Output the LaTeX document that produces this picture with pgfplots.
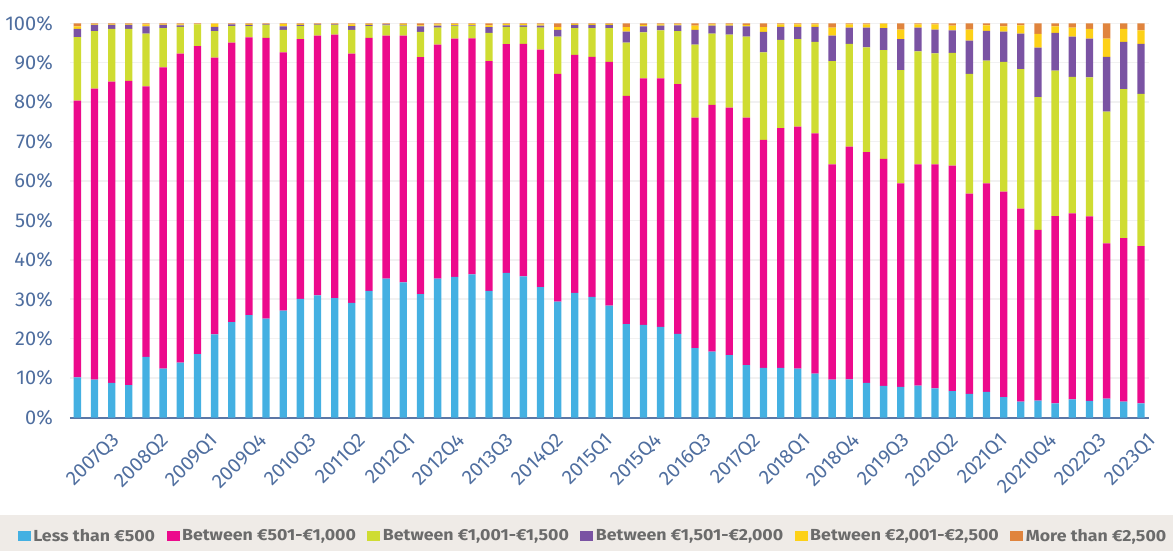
\documentclass[border=0pt]{standalone}
\usepackage{fontspec}
\setmainfont{Fira Sans}
\newfontfamily\legfont{Fira Sans}[FakeStretch=1.11]
\usepackage{pgfplots}
\usepackage{pgfplotstable}
\pgfplotsset{compat=1.18}
\definecolor{cA}{HTML}{44B0E2}
\definecolor{cB}{HTML}{EC0A8C}
\definecolor{cC}{HTML}{CFDC32}
\definecolor{cD}{HTML}{7A53A3}
\definecolor{cE}{HTML}{FDD117}
\definecolor{cF}{HTML}{E0843D}
\definecolor{tickcol}{HTML}{4F6E9F}
\definecolor{axcol}{HTML}{5B77A6}
\definecolor{bandcol}{HTML}{EFEBE7}
\definecolor{legtext}{HTML}{6B6B6B}
\definecolor{gridcol}{HTML}{F1F1F1}

\pgfplotstableread{
x c1 c2 c3 c4 c5 c6
0 10.2 70.2 16.1 2.1 0.6 0.8
1 9.6 73.8 14.6 1.6 0.1 0.3
2 8.8 76.4 13.4 1.0 0.1 0.3
3 8.2 77.2 13.2 1.0 0.1 0.3
4 15.4 68.6 13.4 1.8 0.5 0.3
5 12.4 76.4 10.0 0.8 0.1 0.3
6 13.9 78.4 6.8 0.4 0.2 0.3
7 16.1 78.1 5.5 0.0 0.1 0.2
8 21.1 70.2 6.7 1.1 0.8 0.1
9 24.2 70.9 4.2 0.4 0.1 0.2
10 26.0 70.4 2.9 0.3 0.2 0.2
11 25.1 71.2 3.3 0.1 0.1 0.2
12 27.1 65.5 5.7 0.9 0.6 0.2
13 30.1 65.9 3.3 0.3 0.2 0.2
14 31.0 65.9 2.7 0.1 0.1 0.2
15 30.3 66.8 2.5 0.1 0.1 0.2
16 29.1 63.2 6.0 1.0 0.4 0.3
17 32.1 64.2 3.0 0.3 0.2 0.2
18 35.2 61.7 2.6 0.2 0.1 0.2
19 34.3 62.6 2.5 0.2 0.2 0.2
20 31.3 60.1 6.4 1.4 0.3 0.5
21 35.2 59.4 4.3 0.5 0.3 0.3
22 35.7 60.4 3.2 0.2 0.3 0.2
23 36.3 59.9 3.1 0.2 0.3 0.2
24 32.1 58.3 7.2 1.4 0.5 0.5
25 36.7 58.0 4.4 0.4 0.3 0.2
26 35.8 59.0 4.3 0.4 0.3 0.2
27 33.1 60.2 5.6 0.5 0.3 0.3
28 29.4 57.8 9.4 1.7 0.7 1.0
29 31.6 60.4 6.8 0.8 0.2 0.2
30 30.6 60.9 7.3 0.8 0.2 0.2
31 28.4 61.8 8.6 0.8 0.2 0.2
32 23.7 57.9 13.5 2.8 1.1 1.0
33 23.5 62.5 11.7 1.5 0.4 0.4
34 23.0 63.0 12.2 1.2 0.3 0.3
35 21.2 63.4 13.4 1.5 0.2 0.3
36 17.6 58.5 18.5 3.7 1.1 0.6
37 16.7 62.6 18.1 2.0 0.3 0.3
38 15.8 62.8 18.5 2.3 0.3 0.3
39 13.3 62.8 20.5 2.6 0.4 0.4
40 12.6 57.8 22.2 5.2 1.2 1.0
41 12.6 60.8 22.4 3.3 0.6 0.3
42 12.4 61.4 22.2 3.1 0.6 0.3
43 11.1 61.0 23.2 3.8 0.6 0.3
44 9.6 54.6 26.2 6.5 2.0 1.1
45 9.7 59.0 26.1 4.1 0.8 0.3
46 8.8 58.5 26.6 5.0 0.8 0.3
47 8.0 57.6 27.6 5.6 1.1 0.1
48 7.8 51.6 28.7 7.9 2.4 1.6
49 8.1 56.1 28.7 6.0 0.8 0.3
50 7.4 56.8 28.2 6.0 1.3 0.3
51 6.7 57.2 28.6 5.7 1.2 0.6
52 6.0 50.8 30.4 8.4 2.8 1.6
53 6.5 52.9 31.1 7.6 1.4 0.5
54 5.2 52.1 32.9 7.7 1.3 0.8
55 4.0 49.0 35.4 9.0 2.1 0.5
56 4.3 43.3 33.7 12.5 3.5 2.7
57 3.6 47.5 36.9 9.6 1.6 0.8
58 4.6 47.2 34.6 10.2 2.3 1.1
59 4.2 46.8 35.3 9.8 2.5 1.4
60 4.8 39.4 33.4 13.9 4.6 3.9
61 4.0 41.5 37.8 12.0 3.3 1.4
62 3.6 39.9 38.6 12.7 3.4 1.8
}\data

\begin{document}
\begin{tikzpicture}
\path[use as bounding box] (-70bp,-133.5bp) rectangle (1103bp,417.5bp);
\fill[bandcol] (-70bp,-133.5bp) rectangle (1103bp,-97.5bp);
\begin{axis}[
  at={(0,0)}, anchor=south west,
  scale only axis, width=1079bp, height=394.2bp,
  ybar stacked, bar width=7.3bp,
  xmin=-0.43, xmax=62.47, ymin=0, ymax=100,
  axis x line*=bottom, axis y line*=left,
  x axis line style={draw=axcol, line width=2bp, -},
  y axis line style={draw=none},
  xtick style={draw=none}, ytick style={draw=none},
  ytick={0,10,...,100},
  yticklabel={\pgfmathparse{int(\tick)}\pgfmathresult\%},
  yticklabel style={font=\fontsize{20bp}{24bp}\selectfont, text=tickcol, anchor=east, inner sep=0pt, xshift=-17bp},
  ymajorgrids, major grid style={draw=gridcol, line width=1.5bp},
  xtick={1.10,3.98,6.86,9.73,12.61,15.49,18.37,21.25,24.12,27.00,29.88,32.76,35.64,38.51,41.39,44.27,47.15,50.03,52.90,55.78,58.66,61.54},
  xticklabels={2007Q3,2008Q2,2009Q1,2009Q4,2010Q3,2011Q2,2012Q1,2012Q4,2013Q3,2014Q2,2015Q1,2015Q4,2016Q3,2017Q2,2018Q1,2018Q4,2019Q3,2020Q2,2021Q1,20210Q4,2022Q3,2023Q1},
  xticklabel style={font=\fontsize{20bp}{24bp}\selectfont, text=tickcol, rotate=45, anchor=east, inner sep=0pt, yshift=-28bp},
  legend columns=6,
  legend image code/.code={\fill[#1] (0bp,-5bp) rectangle (13bp,5bp);},
  legend style={at={(0.485,-0.300)}, anchor=center, draw=none, fill=none,
    font=\legfont\bfseries\fontsize{16bp}{19bp}\selectfont, text=legtext,
    /tikz/every even column/.append style={column sep=9bp},
    nodes={inner sep=2.5bp}},
  legend cell align=left,
]
\addplot[fill=cA, draw=none] table[x=x,y=c1]{\data};
\addlegendentry{Less than €500}
\addplot[fill=cB, draw=none] table[x=x,y=c2]{\data};
\addlegendentry{Between €501-€1,000}
\addplot[fill=cC, draw=none] table[x=x,y=c3]{\data};
\addlegendentry{Between €1,001-€1,500}
\addplot[fill=cD, draw=none] table[x=x,y=c4]{\data};
\addlegendentry{Between €1,501-€2,000}
\addplot[fill=cE, draw=none] table[x=x,y=c5]{\data};
\addlegendentry{Between €2,001-€2,500}
\addplot[fill=cF, draw=none] table[x=x,y=c6]{\data};
\addlegendentry{More than €2,500}
\end{axis}
\end{tikzpicture}
\end{document}
